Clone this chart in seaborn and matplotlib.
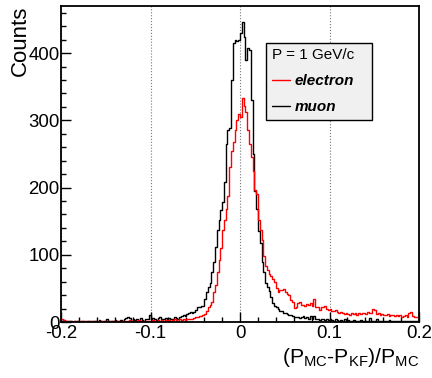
import numpy as np
import pandas as pd
import seaborn as sns
import matplotlib.pyplot as plt
from matplotlib.lines import Line2D
from matplotlib.ticker import MultipleLocator

# 200 bins from -0.2 to 0.2, counts
muon = [2, 3, 1, 2, 1, 1, 0, 1, 2, 1, 0, 1, 1, 0, 2, 1, 0, 2, 1, 1,
        0, 3, 1, 2, 1, 4, 2, 1, 2, 1, 3, 2, 1, 3, 2, 4, 6, 7, 6, 2,
        5, 3, 4, 2, 6, 3, 2, 4, 5, 10, 4, 6, 5, 3, 6, 7, 5, 4, 6, 5,
        6, 4, 5, 7, 6, 5, 8, 9, 10, 9, 12, 13, 15, 14, 15, 18, 22, 23, 24, 24,
        35, 45, 52, 58, 75, 90, 112, 137, 152, 167, 178, 208, 265, 285, 288, 360, 415, 420, 418, 420,
        430, 447, 424, 390, 408, 405, 330, 250, 195, 168, 135, 117, 90, 75, 58, 52, 46, 38, 28, 24,
        22, 20, 17, 16, 14, 13, 12, 10, 11, 9, 8, 7, 8, 6, 7, 9, 6, 8, 5, 9,
        5, 9, 4, 5, 3, 4, 5, 3, 4, 3, 4, 3, 2, 4, 3, 2, 3, 2, 4, 2,
        3, 2, 1, 3, 2, 2, 1, 3, 2, 2, 1, 2, 6, 1, 2, 1, 5, 2, 1, 2,
        1, 2, 1, 3, 1, 2, 1, 2, 1, 1, 2, 1, 1, 2, 1, 1, 2, 1, 1, 2]
electron = [4, 3, 2, 1, 1, 1, 0, 1, 0, 1, 1, 0, 2, 1, 0, 1, 1, 0, 1, 2,
            0, 1, 1, 0, 1, 1, 2, 0, 1, 1, 2, 1, 0, 2, 1, 1, 2, 1, 3, 1,
            2, 1, 2, 3, 2, 1, 2, 1, 2, 1, 2, 3, 2, 1, 3, 2, 3, 2, 3, 2,
            3, 2, 3, 4, 3, 2, 4, 3, 4, 3, 4, 5, 4, 5, 6, 7, 8, 9, 9, 10,
            12, 16, 22, 25, 30, 45, 55, 75, 92, 110, 137, 152, 168, 188, 230, 255, 268, 285, 300, 310,
            305, 333, 322, 312, 285, 265, 245, 225, 196, 190, 152, 137, 122, 98, 84, 78, 72, 68, 64, 60,
            50, 44, 48, 47, 49, 45, 42, 40, 33, 30, 21, 22, 29, 30, 25, 26, 24, 27, 25, 28,
            24, 34, 22, 23, 18, 23, 22, 24, 20, 18, 19, 17, 16, 18, 15, 14, 15, 13, 12, 14,
            12, 11, 13, 12, 14, 11, 13, 12, 14, 13, 12, 15, 14, 13, 19, 18, 12, 13, 11, 12,
            10, 11, 12, 9, 10, 11, 9, 10, 9, 11, 8, 9, 10, 8, 14, 15, 9, 8, 7, 8]
x_ticks = [-0.2, -0.1, 0, 0.1, 0.2]
x_labels = ['-0.2', '-0.1', '0', '0.1', '0.2']

edges = np.linspace(-0.2, 0.2, len(muon) + 1)
centers = 0.5 * (edges[:-1] + edges[1:])
df = pd.DataFrame({'x': centers, 'muon': muon, 'electron': electron})

sns.set_style('ticks')
plt.rcParams['font.family'] = ['Liberation Sans', 'DejaVu Sans']
plt.rcParams['mathtext.fontset'] = 'custom'
plt.rcParams['mathtext.rm'] = 'Liberation Sans'
plt.rcParams['axes.unicode_minus'] = False
plt.rcParams['text.color'] = 'black'
plt.rcParams['axes.labelcolor'] = 'black'

fig = plt.figure(figsize=(4.32, 3.78), dpi=100)
ax = fig.add_axes([0.1412, 0.148, 0.8288, 0.836])

sns.histplot(data=df, x='x', weights='muon', bins=len(muon), binrange=(-0.2, 0.2),
             element='step', fill=False, color='black', linewidth=1.0, ax=ax)
sns.histplot(data=df, x='x', weights='electron', bins=len(muon), binrange=(-0.2, 0.2),
             element='step', fill=False, color='red', linewidth=1.0, ax=ax)

ax.set_xlim(-0.2, 0.2)
ax.set_ylim(0, 470)
ax.set_xticks(x_ticks)
ax.set_xticklabels(x_labels)
ax.xaxis.set_minor_locator(MultipleLocator(0.02))
ax.yaxis.set_major_locator(MultipleLocator(100))
ax.yaxis.set_minor_locator(MultipleLocator(20))
ax.tick_params(which='both', direction='in', top=False, right=False, labelsize=13.4,
               colors='black', labelcolor='black')
ax.tick_params(which='major', length=7.2, width=1)
ax.tick_params(which='minor', length=3.6, width=1)
ax.tick_params(axis='y', pad=1)
ax.tick_params(axis='x', pad=2)
ax.xaxis.grid(True, linestyle=':', color='#777777', linewidth=0.8)
for s in ax.spines.values():
    s.set_linewidth(1.3)
    s.set_color('black')

ax.set_ylabel('Counts', fontsize=16, loc='top', color='black')
ax.yaxis.set_label_coords(-0.085, 1.0)
ax.set_xlabel(r'(P$_{\mathrm{MC}}$-P$_{\mathrm{KF}}$)/P$_{\mathrm{MC}}$', fontsize=15.2,
              loc='right', color='black')
ax.xaxis.set_label_coords(1.0, -0.075)

handles = [Line2D([], [], color='red', lw=1), Line2D([], [], color='black', lw=1)]
leg = ax.legend(handles, ['electron', 'muon'], title='P = 1 GeV/c', alignment='left',
                loc='upper left', bbox_to_anchor=(0.573, 0.631, 0.295, 0.253), mode='expand',
                borderaxespad=0, fontsize=11, title_fontsize=11, fancybox=False, frameon=True,
                edgecolor='black', facecolor='#f0f0f0', framealpha=1,
                handlelength=1.2, handletextpad=0.3, labelspacing=0.8, borderpad=0.35)
leg.get_frame().set_linewidth(1)
leg.get_title().set_color('black')
for t in leg.get_texts():
    t.set_fontweight('bold')
    t.set_fontstyle('italic')
    t.set_color('black')

fig.savefig('out.png', dpi=100)
